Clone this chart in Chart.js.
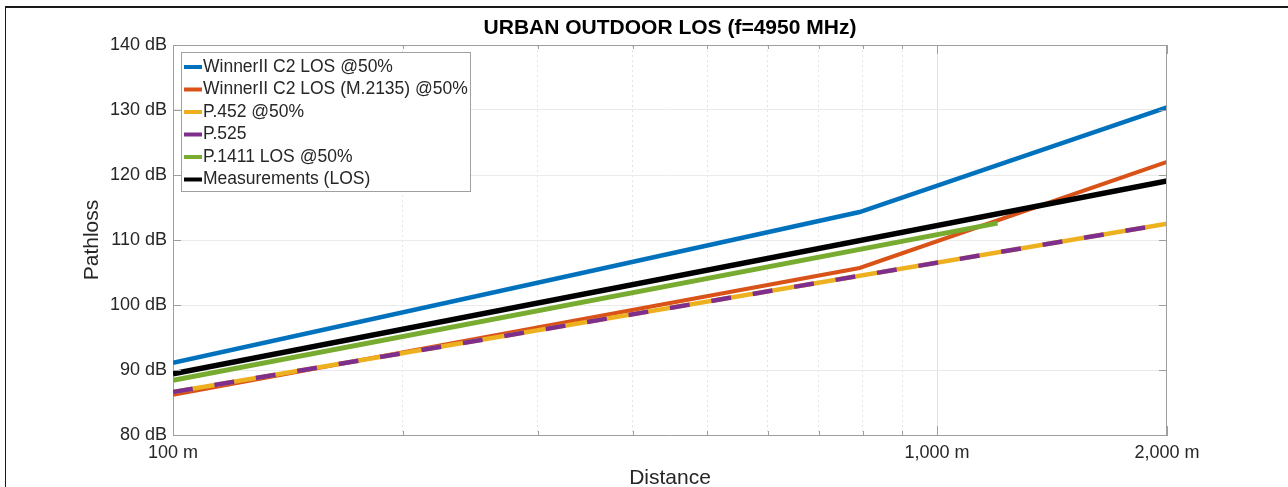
<!DOCTYPE html>
<html>
<head>
<meta charset="utf-8">
<title>Urban outdoor LOS</title>
<script src="https://cdn.jsdelivr.net/npm/chart.js@4.4.1/dist/chart.umd.min.js"></script>
<style>
  html, body { margin: 0; padding: 0; background: #fff; }
  #wrap { position: relative; width: 1288px; height: 487px; overflow: hidden; }
  #wrap canvas { position: absolute; left: 0; top: 0; }
  #frame { position: absolute; left: 5px; top: 6px; width: 1400px; height: 600px;
           border-top: 2px solid #1a1a1a; border-left: 1px solid #1a1a1a; pointer-events: none; }
</style>
</head>
<body>
<div id="wrap">
  <canvas id="chart" width="1288" height="487"></canvas>
  <div id="frame"></div>
</div>
<script>
// ---- data (distance in m, path loss in dB) ----
const distBreak = [100, 792, 2000];
const distFull = [100, 2000];
const distP1411 = [100, 1200];

const winnerC2 = [91.1, 114.3, 130.4];
const winnerM2135 = [86.2, 105.7, 122.0];
const p452 = [86.6, 112.5];
const p525 = [86.6, 112.5];
const p1411 = [88.4, 112.6];
const measured = [89.4, 119.1];

const seriesNames = [
  'WinnerII C2 LOS @50%',
  'WinnerII C2 LOS (M.2135) @50%',
  'P.452 @50%',
  'P.525',
  'P.1411 LOS @50%',
  'Measurements (LOS)',
];

const xTicks = [100, 200, 300, 400, 500, 600, 700, 800, 900, 1000, 2000];
const xLabelled = [100, 1000, 2000];
const yTicks = [80, 90, 100, 110, 120, 130, 140];

// ---- styling ----
const FONT = "'Liberation Sans', Arial, Helvetica, sans-serif";
const COLORS = {
  blue: '#0072BD',
  orange: '#D95319',
  yellow: '#EDB120',
  purple: '#7E2F8E',
  green: '#77AC30',
  black: '#000000',
  text: '#262626',
  axis: '#9e9e9e',
  grid: '#ebebeb',
  minor: '#e4e4e4',
};
const LEGEND_COLORS = [COLORS.blue, COLORS.orange, COLORS.yellow, COLORS.purple, COLORS.green, COLORS.black];

function pts(xs, ys) {
  return xs.map((x, i) => ({ x: x, y: ys[i] }));
}

function line(label, data, color, width, order, dash) {
  return {
    label: label,
    data: data,
    borderColor: color,
    backgroundColor: color,
    borderWidth: width,
    borderDash: dash || [],
    pointRadius: 0,
    tension: 0,
    fill: false,
    order: order,
  };
}

// MATLAB-style box: top/right edges + inward ticks
const axesFrame = {
  id: 'axesFrame',
  afterDatasetsDraw(chart) {
    const { ctx, chartArea: a, scales } = chart;
    ctx.save();
    ctx.strokeStyle = COLORS.axis;
    ctx.lineWidth = 1;
    ctx.beginPath();
    ctx.moveTo(a.left, a.top + 0.5);
    ctx.lineTo(a.right, a.top + 0.5);
    ctx.moveTo(a.right - 0.5, a.top);
    ctx.lineTo(a.right - 0.5, a.bottom);
    yTicks.forEach(v => {
      const y = Math.round(scales.y.getPixelForValue(v)) + 0.5;
      ctx.moveTo(a.left, y); ctx.lineTo(a.left + 8, y);
      ctx.moveTo(a.right, y); ctx.lineTo(a.right - 8, y);
    });
    xTicks.forEach(v => {
      const x = Math.round(scales.x.getPixelForValue(v)) + 0.5;
      const len = xLabelled.includes(v) ? 9 : 4;
      ctx.moveTo(x, a.bottom); ctx.lineTo(x, a.bottom - len);
      ctx.moveTo(x, a.top); ctx.lineTo(x, a.top + len);
    });
    ctx.stroke();
    ctx.restore();
  },
};

// legend box in the upper-left corner
const boxLegend = {
  id: 'boxLegend',
  afterDraw(chart) {
    const ctx = chart.ctx;
    const x0 = 181, y0 = 52, w = 289, h = 139;
    ctx.save();
    ctx.fillStyle = '#ffffff';
    ctx.fillRect(x0, y0, w, h);
    ctx.strokeStyle = '#a0a0a0';
    ctx.lineWidth = 1;
    ctx.strokeRect(x0 + 0.5, y0 + 0.5, w, h);
    ctx.font = '17.5px ' + FONT;
    ctx.textBaseline = 'middle';
    ctx.textAlign = 'left';
    seriesNames.forEach((name, i) => {
      const y = y0 + 15 + i * 22.5;
      ctx.strokeStyle = LEGEND_COLORS[i];
      ctx.lineWidth = 4;
      ctx.beginPath();
      ctx.moveTo(x0 + 3, y);
      ctx.lineTo(x0 + 21, y);
      ctx.stroke();
      ctx.fillStyle = COLORS.text;
      ctx.fillText(name, x0 + 22, y);
    });
    ctx.restore();
  },
};

Chart.defaults.font.family = FONT;

new Chart(document.getElementById('chart'), {
  type: 'line',
  data: {
    datasets: [
      line(seriesNames[0], pts(distBreak, winnerC2), COLORS.blue, 4.5, 6),
      line(seriesNames[1], pts(distBreak, winnerM2135), COLORS.orange, 4, 5),
      line(seriesNames[2], pts(distFull, p452), COLORS.yellow, 4.5, 4),
      line(seriesNames[3], pts(distFull, p525), COLORS.purple, 4.5, 3, [20, 22]),
      line(seriesNames[4], pts(distP1411, p1411), COLORS.green, 5, 2),
      line(seriesNames[5], pts(distFull, measured), COLORS.black, 5.5, 1),
    ],
  },
  options: {
    responsive: false,
    devicePixelRatio: 1,
    animation: false,
    layout: { padding: { left: 82, right: 121, top: 10, bottom: 0 } },
    plugins: {
      legend: { display: false },
      tooltip: { enabled: false },
      title: {
        display: true,
        fullSize: false,
        text: 'URBAN OUTDOOR LOS (f=4950 MHz)',
        color: '#000',
        font: { size: 21, weight: 'bold', lineHeight: 1.2 },
        padding: { top: 6.1, bottom: 3.7 },
      },
    },
    scales: {
      x: {
        type: 'logarithmic',
        min: 100,
        max: 2000,
        afterBuildTicks: (s) => { s.ticks = xTicks.map(v => ({ value: v })); },
        afterFit: (s) => { s.height = 52; },
        grid: {
          drawTicks: false,
          lineWidth: 1,
          color: (c) => {
            const v = c.tick && c.tick.value;
            if (v === 100 || v === 2000) return 'rgba(0,0,0,0)';
            return v === 1000 ? '#e0e0e0' : COLORS.minor;
          },
        },
        border: {
          display: true,
          color: COLORS.axis,
          width: 1,
          dash: (c) => (c.tick && !xLabelled.includes(c.tick.value)) ? [2, 3] : [],
        },
        ticks: {
          autoSkip: false,
          maxRotation: 0,
          padding: 7,
          color: COLORS.text,
          font: { size: 18 },
          callback: (v) => xLabelled.includes(v) ? v.toLocaleString('en-US') + ' m' : '',
        },
        title: {
          display: true,
          text: 'Distance',
          color: COLORS.text,
          font: { size: 21, lineHeight: 0.8 },
          padding: 0,
        },
      },
      y: {
        min: 80,
        max: 140,
        afterBuildTicks: (s) => { s.ticks = yTicks.map(v => ({ value: v })); },
        afterFit: (s) => { s.width = 91; },
        grid: {
          drawTicks: false,
          lineWidth: 1,
          color: (c) => {
            const v = c.tick && c.tick.value;
            return (v === 80 || v === 140) ? 'rgba(0,0,0,0)' : COLORS.grid;
          },
        },
        border: { display: true, color: COLORS.axis, width: 1 },
        ticks: {
          padding: 6,
          color: COLORS.text,
          font: { size: 18 },
          callback: (v) => v + ' dB',
        },
        title: {
          display: true,
          text: 'Pathloss',
          color: COLORS.text,
          font: { size: 21, lineHeight: 1 },
          padding: 0,
        },
      },
    },
  },
  plugins: [axesFrame, boxLegend],
});
</script>
</body>
</html>
